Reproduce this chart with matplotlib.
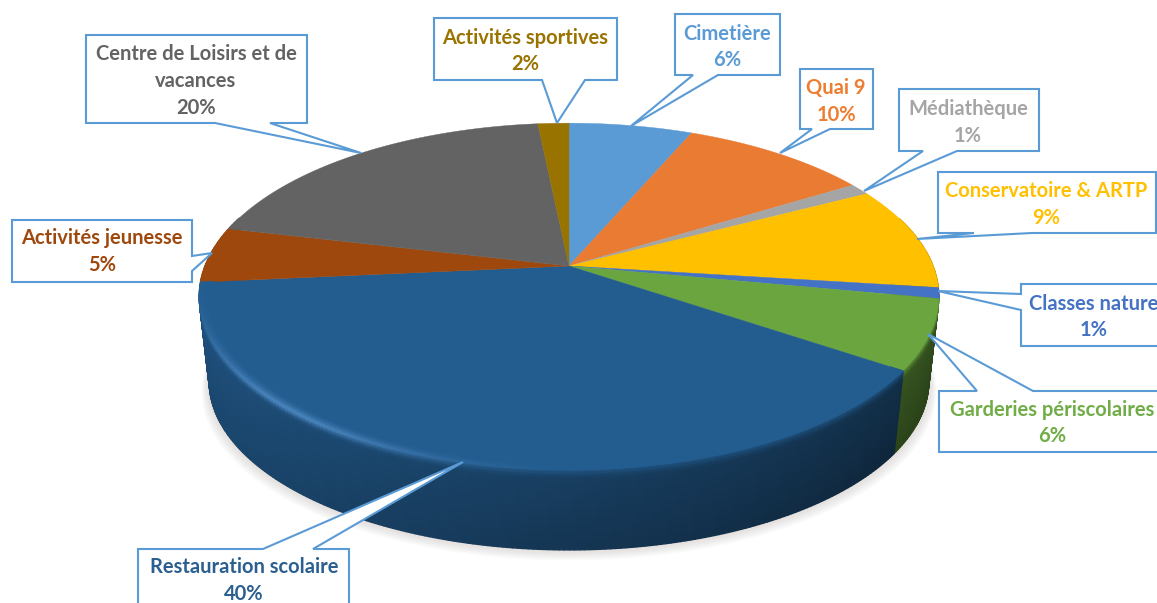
import numpy as np
import matplotlib
matplotlib.use("Agg")
import matplotlib.pyplot as plt
from matplotlib.collections import PolyCollection
from matplotlib.patches import Polygon

# ---- data (clockwise from 12 o'clock) ----
categories = ["Cimetière", "Quai 9", "Médiathèque", "Conservatoire & ARTP", "Classes nature",
              "Garderies périscolaires", "Restauration scolaire", "Activités jeunesse",
              "Centre de Loisirs et de\nvacances", "Activités sportives"]
values = [6.4, 9.8, 1.1, 9.7, 1, 6.5, 39, 5.2, 19.7, 1.6]
percent_labels = ["6%", "10%", "1%", "9%", "1%", "6%", "40%", "5%", "20%", "2%"]
colors = ["#5B9BD5", "#EA7B32", "#A5A5A5", "#FFC000", "#4472C4",
          "#6AA53F", "#235C8F", "#9E480E", "#636363", "#997300"]
text_colors = ["#5B9BD5", "#ED7D31", "#A5A5A5", "#FFC000", "#4472C4",
               "#70AD47", "#2A5F8F", "#9E480E", "#636363", "#997300"]

# ---- layout (pixels) ----
boxes = [(675, 780, 14, 75), (800, 873, 69, 129), (899, 1039, 89, 151), (938, 1156, 172, 233),
         (1021, 1175, 284, 346), (939, 1175, 391, 452), (138, 349, 549, 620),
         (12, 192, 220, 282), (86, 307, 35, 123), (434, 617, 18, 80)]
# pointer: side, base a, base b, tip
pointers = [("b", 693, 718, (631, 126)), ("b", 812, 830, (780, 153)), ("b", 923, 957, (864, 191)),
            ("b", 974, 1032, (917, 239)), ("l", 294, 310, (938, 291)), ("t", 977, 1033, (928, 334)),
            ("t", 263, 313, (463, 462)), ("r", 256, 271, (212, 253)), ("b", 215, 270, (361, 153)),
            ("b", 542, 585, (557, 123))]
text_x = [727, 836, 968, 1046, 1094, 1052, 244, 102, 196, 525]
text_y = [47, 101.5, 122.5, 204.5, 317, 423, 580.5, 251.5, 81, 51]

CX, AY = 569, 266         # apex of the pie on the picture
K, A, C = 0.176, -168.0, 364.0   # perspective of the disc
S_BOT, DZ = 0.973, 85.5   # lower rim scale and drop
LIGHT = np.array([0.42, 0.66, 0.90])


def project(theta, r=1.0, t=0.0):
    """theta clockwise from 12 o'clock, t = 0 top rim, t = 1 lower rim."""
    u, v = r * np.sin(theta), r * np.cos(theta)
    s = 1 + (S_BOT - 1) * t
    w = 1 + K * v
    return CX + s * C * u / w, AY + s * A * v / w + DZ * t


def front_glow(theta):
    """Highlight peak on the front-left part of the rim."""
    d = np.degrees(theta) - 222
    return np.exp(-(d / 24.0) ** 2)


fig = plt.figure(figsize=(11.57, 6.03), dpi=100)
ax = fig.add_axes([0, 0, 1, 1])
ax.set_xlim(0, 1157)
ax.set_ylim(603, 0)
ax.axis("off")

fractions = np.array(values) / sum(values)
edges = np.concatenate([[0], np.cumsum(fractions)]) * 2 * np.pi

# soft shadow under the disc
tt = np.linspace(0, 2 * np.pi, 240)
for grow in range(12, 0, -1):
    x, y = project(tt, 1.0, 1.0)
    ax.fill(CX + (x - CX) * (1 + grow * 0.0018), y + grow * 0.9, color="#8a8270",
            alpha=0.02, lw=0, zorder=1)

# side wall, painted from back to front
levels = np.concatenate([np.linspace(0, 0.12, 5), np.linspace(0.18, 1, 9)])
quads = []
for i in range(len(values)):
    a0, a1 = edges[i], edges[i + 1]
    n = max(2, int((a1 - a0) / 0.012))
    th = np.linspace(a0, a1, n + 1)
    base = np.array(matplotlib.colors.to_rgb(colors[i]))
    for j in range(n):
        thm = 0.5 * (th[j] + th[j + 1])
        if np.cos(thm) > 0.3:
            continue
        for l0, l1 in zip(levels[:-1], levels[1:]):
            t = 0.5 * (l0 + l1)
            f = 0.68 - 0.2 * np.sin(thm) - 0.1 * t
            c = base * f
            c = c + (base - c) * 0.65 * np.exp(-(t / 0.07) ** 2)
            if i == 6:
                c = c + (LIGHT - c) * 0.55 * front_glow(thm) * np.exp(-(t / 0.05) ** 2)
            pts = [project(th[j], 1, l0), project(th[j + 1], 1, l0),
                   project(th[j + 1], 1, l1), project(th[j], 1, l1)]
            quads.append((np.cos(thm), pts, np.clip(c, 0, 1)))
quads.sort(key=lambda q: -q[0])
side_cols = [q[2] for q in quads]
ax.add_collection(PolyCollection([q[1] for q in quads], facecolors=side_cols, edgecolors=side_cols,
                                 linewidths=1.0, zorder=2))

# top surface
for i in range(len(values)):
    th = np.linspace(edges[i], edges[i + 1], max(3, int(values[i] * 6)))
    x, y = project(th)
    ax.add_patch(Polygon(np.column_stack([np.r_[CX, x], np.r_[AY, y]]), closed=True,
                         fc=colors[i], ec=colors[i], lw=0.3, zorder=3))

# lighter rim on the front of the top surface
polys, cols = [], []
th_all = np.linspace(edges[6], edges[7], 240)
base6 = np.array(matplotlib.colors.to_rgb(colors[6]))
radii = np.linspace(0.965, 1.0, 8)
for a, b in zip(th_all[:-1], th_all[1:]):
    m = 0.5 * (a + b)
    for r0, r1 in zip(radii[:-1], radii[1:]):
        rel = (0.5 * (r0 + r1) - 0.965) / 0.035
        c = base6 + (LIGHT - base6) * 0.6 * front_glow(m) * rel ** 2
        polys.append([project(a, r0), project(b, r0), project(b, r1), project(a, r1)])
        cols.append(c)
ax.add_collection(PolyCollection(polys, facecolors=cols, edgecolors=cols, linewidths=0.6, zorder=3.5))


def callout(box, ptr):
    x0, x1, y0, y1 = box
    side, p, q, tip = ptr
    if side == "b":
        path = [(x0, y0), (x1, y0), (x1, y1), (q, y1), tip, (p, y1), (x0, y1)]
    elif side == "t":
        path = [(x0, y0), (p, y0), tip, (q, y0), (x1, y0), (x1, y1), (x0, y1)]
    elif side == "l":
        path = [(x0, y0), (x1, y0), (x1, y1), (x0, y1), (x0, q), tip, (x0, p)]
    else:
        path = [(x0, y0), (x1, y0), (x1, p), tip, (x1, q), (x1, y1), (x0, y1)]
    ax.add_patch(Polygon(path, closed=True, fc="white", ec="#5B9BD5", lw=1.5, zorder=5,
                         joinstyle="miter"))


for i, cat in enumerate(categories):
    callout(boxes[i], pointers[i])
    ax.text(text_x[i], text_y[i], cat + "\n" + percent_labels[i], ha="center", va="center",
            family="Lato", weight="bold", fontsize=14.5, color=text_colors[i],
            linespacing=1.43, zorder=6, clip_on=True)

fig.savefig("out.png", dpi=100, facecolor="white")
